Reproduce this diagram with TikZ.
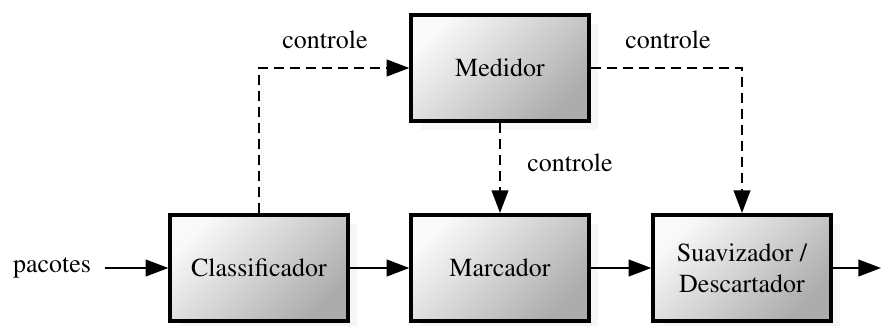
\documentclass[tikz,border=0pt]{standalone}
\usepackage[T1]{fontenc}
\usepackage{mathptmx}
\usepackage{tikz}
\usetikzlibrary{arrows.meta,shadows}

\tikzset{
  bloco/.style={draw=black, line width=3pt, rectangle,
    minimum width=133pt, minimum height=79.5pt, align=center,
    top color=gray!5, bottom color=gray!65, shading angle=45,
    drop shadow={shadow xshift=7pt, shadow yshift=-7pt, fill=gray!7, opacity=1}},
  fluxo/.style={line width=1.5pt, -{Triangle[length=17pt, width=12.5pt]}},
  ctrl/.style={fluxo, dash pattern=on 7.5pt off 4.5pt},
  rotulo/.style={inner sep=0pt}
}

\begin{document}
\begin{tikzpicture}[x=0.75pt, y=-0.75pt, font=\rmfamily\fontsize{19.5}{23}\selectfont]
\useasboundingbox (0,0) rectangle (881,325);
%ブロック%
\node[bloco] (med) at (500,68) {Medidor};
\node[bloco] (clas) at (259,268) {Classificador};
\node[bloco] (marc) at (500,268) {Marcador};
\node[bloco] (suav) at (742,268) {Suavizador /\\Descartador};
%入力と出力%
\node[rotulo] (pac) at (52,268) {pacotes};
\coordinate (saida) at (881,268);
%矢印%
\draw[fluxo] (pac.east) ++(10pt,0) coordinate (ini) -- (clas.west);
\draw[fluxo] (clas.east) -- (marc.west);
\draw[fluxo] (marc.east) -- (suav.west);
\draw[fluxo] (suav.east) -- (saida);
%制御の矢印%
\draw[ctrl] (clas.north) |- (med.west);
\draw[ctrl] (med.east) -| (suav.north);
\draw[ctrl] (med.south) -- (marc.north);
%ラベル%
\node[rotulo] (c1) at (325,40) {controle};
\node[rotulo] (c2) at (668,40) {controle};
\node[rotulo] (c3) at (570,163) {controle};
\end{tikzpicture}
\end{document}
